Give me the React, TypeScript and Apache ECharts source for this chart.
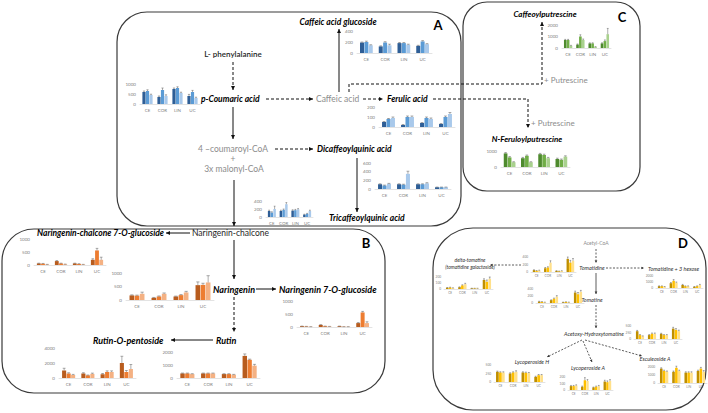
import React, { useEffect, useRef } from 'react';
import * as echarts from 'echarts';

const categories = ['CE', 'COR', 'LIN', 'UC'];

// three series (dark, medium, light), four categories each
const caffeicAcidGlucoside = [[190, 120, 180, 130], [200, 190, 180, 210], [140, 140, 150, 160]];
const pCoumaricAcid = [[600, 350, 750, 400], [650, 700, 800, 600], [450, 400, 550, 300]];
const ferulicAcid = [[50, 20, 40, 30], [80, 100, 90, 100], [90, 100, 80, 130]];
const dicaffeoylquinicAcid = [[110, 110, 110, 40], [80, 100, 110, 40], [120, 350, 130, 40]];
const tricaffeoylquinicAcid = [[150, 150, 160, 60], [110, 180, 170, 80], [200, 320, 190, 150]];
const caffeoylputrescine = [[700, 300, 400, 400], [700, 1000, 400, 600], [200, 700, 100, 1200]];
const nFeruloylputrescine = [[850, 550, 800, 500], [600, 700, 750, 450], [300, 300, 550, 650]];
const naringeninChalcone7OG = [[60, 150, 60, 200], [50, 60, 40, 560], [20, 30, 20, 200]];
const naringenin = [[170, 80, 130, 550], [160, 130, 180, 560], [230, 230, 280, 650]];
const naringenin7OG = [[30, 80, 30, 150], [20, 30, 10, 560], [10, 20, 10, 150]];
const rutinOPentoside = [[1000, 600, 500, 2000], [600, 350, 800, 800], [400, 550, 800, 1200]];
const rutin = [[350, 350, 300, 1700], [350, 350, 300, 1400], [300, 350, 250, 950]];
const deltaTomatine = [[20, 30, 10, 150], [25, 60, 10, 120], [15, 80, 10, 170]];
const tomatidine = [[50, 100, 30, 350], [30, 120, 20, 250], [40, 250, 30, 300]];
const tomatine = [[40, 80, 20, 300], [30, 120, 30, 250], [20, 180, 20, 320]];
const tomatidine3Hexose = [[300, 800, 500, 200], [300, 1200, 300, 300], [200, 900, 300, 500]];
const acetoxyHydroxytomatine = [[300, 150, 200, 400], [150, 200, 150, 350], [100, 200, 150, 300]];
const lycoperosideH = [[300, 250, 280, 150], [280, 280, 270, 200], [280, 300, 260, 200]];
const lycoperosideA = [[60, 50, 40, 130], [60, 150, 50, 120], [70, 140, 60, 140]];
const esculeosideA = [[1800, 1400, 1300, 1500], [1500, 1900, 1300, 1800], [1400, 1500, 1300, 1400]];

// error bars (same shape, 0 = none)
const pCoumaricErr = [[50, 50, 50, 80], [60, 100, 60, 80], [40, 60, 40, 40]];
const caffeicGlucErr = [[10, 10, 10, 10], [15, 15, 10, 15], [10, 20, 10, 10]];
const ferulicErr = [[5, 5, 5, 5], [5, 10, 10, 10], [10, 10, 10, 15]];
const dicaffErr = [[10, 10, 10, 5], [10, 10, 10, 5], [10, 60, 15, 5]];
const tricaffErr = [[20, 20, 20, 10], [20, 20, 20, 10], [70, 40, 20, 20]];
const caffeoylputErr = [[50, 50, 50, 50], [50, 150, 50, 100], [30, 80, 20, 500]];
const nFerulErr = [[50, 50, 50, 50], [50, 50, 50, 50], [30, 30, 50, 50]];
const nc7ogErr = [[10, 20, 10, 40], [10, 10, 10, 80], [5, 5, 5, 100]];
const naringeninErr = [[20, 15, 15, 120], [20, 20, 20, 60], [60, 30, 40, 250]];
const n7ogErr = [[5, 10, 5, 20], [5, 5, 3, 40], [3, 3, 3, 50]];
const rutinOPErr = [[300, 100, 100, 900], [100, 50, 150, 200], [80, 100, 150, 600]];
const rutinErr = [[30, 30, 30, 150], [30, 30, 30, 50], [30, 30, 30, 100]];
const deltaErr = [[5, 5, 3, 20], [5, 10, 3, 30], [5, 15, 3, 30]];
const tomatidineErr = [[10, 20, 5, 50], [10, 20, 5, 60], [10, 50, 5, 60]];
const tomatineErr = [[10, 10, 5, 40], [10, 20, 5, 50], [5, 30, 5, 40]];
const hexoseErr = [[50, 100, 100, 50], [50, 200, 50, 50], [50, 100, 50, 100]];
const acetoxyErr = [[30, 20, 20, 50], [20, 30, 20, 50], [20, 30, 20, 40]];
const lycoHErr = [[20, 20, 20, 20], [20, 20, 20, 20], [20, 30, 20, 20]];
const lycoAErr = [[10, 10, 5, 20], [10, 40, 10, 20], [10, 20, 10, 20]];
const esculErr = [[100, 100, 100, 100], [100, 200, 100, 150], [100, 100, 100, 150]];

const BLUE = ['#2E5E96', '#5B9BD5', '#A9C9EB'];
const ORANGE = ['#B85C1E', '#ED7D31', '#F4B183'];
const GREEN = ['#4E8A2E', '#70AD47', '#A9D18E'];
const GOLD = ['#BF8F00', '#FFC000', '#FFE08A'];

const FONT = 'Lato, "Open Sans", sans-serif';

type ChartSpec = { data: number[][]; err: number[][]; colors: string[]; max: number; interval: number; box: number[]; fs: number };

const charts: ChartSpec[] = [
  { data: caffeicAcidGlucoside, err: caffeicGlucErr, colors: BLUE, max: 400, interval: 200, box: [357, 31, 75, 22], fs: 4.5 },
  { data: pCoumaricAcid, err: pCoumaricErr, colors: BLUE, max: 1000, interval: 500, box: [140, 84, 60, 20], fs: 4.5 },
  { data: ferulicAcid, err: ferulicErr, colors: BLUE, max: 200, interval: 100, box: [379, 107, 76, 20], fs: 4.5 },
  { data: dicaffeoylquinicAcid, err: dicaffErr, colors: BLUE, max: 600, interval: 200, box: [375, 163, 76, 26], fs: 4.5 },
  { data: tricaffeoylquinicAcid, err: tricaffErr, colors: BLUE, max: 400, interval: 200, box: [266, 201, 47, 16], fs: 4.5 },
  { data: caffeoylputrescine, err: caffeoylputErr, colors: GREEN, max: 2000, interval: 1000, box: [562, 25, 49, 23], fs: 4.5 },
  { data: nFeruloylputrescine, err: nFerulErr, colors: GREEN, max: 1000, interval: 1000, box: [501, 151, 69, 16], fs: 4.5 },
  { data: naringeninChalcone7OG, err: nc7ogErr, colors: ORANGE, max: 1000, interval: 500, box: [34, 239, 72, 26], fs: 4.5 },
  { data: naringenin, err: naringeninErr, colors: ORANGE, max: 1000, interval: 500, box: [126, 273, 88, 27], fs: 4.5 },
  { data: naringenin7OG, err: n7ogErr, colors: ORANGE, max: 1000, interval: 500, box: [297, 301, 75, 26], fs: 4.5 },
  { data: rutinOPentoside, err: rutinOPErr, colors: ORANGE, max: 4000, interval: 2000, box: [59, 348, 77, 30], fs: 4.5 },
  { data: rutin, err: rutinErr, colors: ORANGE, max: 2000, interval: 1000, box: [177, 352, 83, 26], fs: 4.5 },
  { data: deltaTomatine, err: deltaErr, colors: GOLD, max: 200, interval: 100, box: [444, 277, 49, 12], fs: 3.2 },
  { data: tomatidine, err: tomatidineErr, colors: GOLD, max: 400, interval: 200, box: [531, 257, 45, 15], fs: 3.2 },
  { data: tomatine, err: tomatineErr, colors: GOLD, max: 400, interval: 200, box: [536, 289, 48, 14], fs: 3.2 },
  { data: tomatidine3Hexose, err: hexoseErr, colors: GOLD, max: 2000, interval: 1000, box: [656, 276, 47, 12], fs: 3.2 },
  { data: acetoxyHydroxytomatine, err: acetoxyErr, colors: GOLD, max: 500, interval: 250, box: [634, 326, 48, 13], fs: 3.2 },
  { data: lycoperosideH, err: lycoHErr, colors: GOLD, max: 500, interval: 250, box: [494, 365, 51, 17], fs: 3.2 },
  { data: lycoperosideA, err: lycoAErr, colors: GOLD, max: 200, interval: 100, box: [568, 377, 45, 13], fs: 3.2 },
  { data: esculeosideA, err: esculErr, colors: GOLD, max: 2000, interval: 1000, box: [658, 367, 49, 16], fs: 3.2 },
];

const CAT_GAP = 0.32;
const BAR_GAP = 0.1;

function T(x: number, y: number, text: string, o: any = {}) {
  const font = `${o.italic ? 'italic ' : ''}${o.weight ?? 'normal'} ${o.size ?? 8}px ${FONT}`;
  return {
    type: 'text', x, y, silent: true, z: 20,
    style: {
      text, fill: o.fill ?? '#000', font,
      textAlign: o.align ?? 'left', textVerticalAlign: 'middle',
      align: o.align ?? 'left', verticalAlign: 'middle',
    },
  };
}

function arrow(pts: number[][], dashed: boolean, o: any = {}) {
  const color = o.color ?? '#111';
  const lw = o.lw ?? 1;
  const els: any[] = [{
    type: 'polyline', silent: true, z: 15,
    shape: { points: pts },
    style: { stroke: color, lineWidth: lw, lineDash: dashed ? (o.dash ?? [3, 2]) : null, fill: null },
  }];
  if (o.head !== false) {
    const [x1, y1] = pts[pts.length - 2];
    const [x2, y2] = pts[pts.length - 1];
    const dx = x2 - x1, dy = y2 - y1;
    const L = Math.hypot(dx, dy);
    const ux = dx / L, uy = dy / L;
    const hl = o.hl ?? 4, hw = o.hw ?? 2;
    els.push({
      type: 'polygon', silent: true, z: 16,
      shape: { points: [[x2, y2], [x2 - ux * hl - uy * hw, y2 - uy * hl + ux * hw], [x2 - ux * hl + uy * hw, y2 - uy * hl - ux * hw]] },
      style: { fill: color },
    });
  }
  return els;
}

function panel(x: number, y: number, w: number, h: number, r: number) {
  return { type: 'rect', silent: true, z: 1, shape: { x, y, width: w, height: h, r }, style: { fill: 'none', stroke: '#3a3a3a', lineWidth: 1.2 } };
}

const GRAY = '#8c8c8c';
const BI = { italic: true, weight: 'bold', size: 8.5 };

function buildGraphic() {
  const g: any[] = [];
  g.push(panel(117, 12, 344, 214, 30));
  g.push(panel(2, 229, 383, 164, 32));
  g.push(panel(463, 2, 177, 189, 24));
  g.push(panel(433, 228, 273, 182, 40));

  g.push(T(438, 25, 'A', { weight: 'bold', size: 13, align: 'center' }));
  g.push(T(366, 243, 'B', { weight: 'bold', size: 13, align: 'center' }));
  g.push(T(622, 17, 'C', { weight: 'bold', size: 13, align: 'center' }));
  g.push(T(683, 243, 'D', { weight: 'bold', size: 13, align: 'center' }));

  // Panel A
  g.push(T(233, 54, 'L- phenylalanine', { weight: 600, size: 8, align: 'center', fill: '#262626' }));
  g.push(...arrow([[233, 62], [233, 90]], true));
  g.push(T(201, 99, 'p-Coumaric acid', BI));
  g.push(...arrow([[266, 99], [313, 99]], true));
  g.push(T(316, 99, 'Caffeic acid', { size: 8.5, fill: GRAY }));
  g.push(...arrow([[339, 92], [339, 29]], false));
  g.push(T(338, 22, 'Caffeic acid glucoside', { ...BI, align: 'center' }));
  g.push(...arrow([[363, 99], [383, 99]], true));
  g.push(T(387, 99, 'Ferulic acid', BI));
  g.push(...arrow([[433, 99], [528, 99], [528, 128]], true));
  g.push(...arrow([[349, 92], [349, 84], [542, 84], [542, 22]], true));
  g.push(T(544, 80, '+ Putrescine', { size: 8, fill: GRAY }));
  g.push(T(531, 123, '+ Putrescine', { size: 8, fill: GRAY }));
  g.push(T(545, 14, 'Caffeoylputrescine', { ...BI, size: 8, align: 'center' }));
  g.push(T(527, 139, 'N-Feruloylputrescine', { ...BI, size: 8, align: 'center' }));
  g.push(...arrow([[233, 107], [233, 139]], false));
  g.push(T(233, 149, '4 \u2013coumaroyl-CoA', { size: 8.5, fill: GRAY, align: 'center' }));
  g.push(T(233, 159, '+', { size: 8.5, fill: GRAY, align: 'center' }));
  g.push(T(234, 169, '3x malonyl-CoA', { size: 8.5, fill: GRAY, align: 'center' }));
  g.push(...arrow([[275, 149], [313, 149]], true));
  g.push(T(317, 149, 'Dicaffeoylquinic acid', BI));
  g.push(...arrow([[357, 158], [357, 212]], false));
  g.push(T(329, 218, 'Tricaffeoylquinic acid', BI));
  g.push(...arrow([[234, 180], [234, 226]], false));

  // Panel B
  g.push(T(192, 233, 'Naringenin-chalcone', { size: 8.5, fill: '#262626' }));
  g.push(...arrow([[190, 233], [166, 233]], false));
  g.push(T(37, 233, 'Naringenin-chalcone 7-O-glucoside', BI));
  g.push(...arrow([[234, 240], [234, 279]], false));
  g.push(T(213, 289, 'Naringenin', { ...BI, size: 9 }));
  g.push(...arrow([[256, 289], [276, 289]], false));
  g.push(T(279, 289, 'Naringenin 7-O-glucoside', { ...BI, size: 9 }));
  g.push(...arrow([[234, 297], [234, 332]], true));
  g.push(T(216, 340, 'Rutin', { ...BI, size: 9 }));
  g.push(...arrow([[213, 340], [171, 340]], false));
  g.push(T(93, 340, 'Rutin-O-pentoside', { ...BI, size: 9 }));

  // Panel D
  const DI = { italic: true, size: 5.5, fill: '#303030', align: 'center' };
  const dOpt = { lw: 0.8, hl: 2.5, hw: 1.3, dash: [2, 1.5], color: '#333' };
  g.push(T(596, 243, 'Acetyl-CoA', { size: 5, fill: GRAY, align: 'center' }));
  g.push(...arrow([[596, 249], [596, 263]], true, dOpt));
  g.push(T(592, 268, 'Tomatidine', DI));
  g.push(...arrow([[521, 265], [490, 265]], true, dOpt));
  g.push(T(470, 260, 'delta-tomatine', { ...DI, size: 5 }));
  g.push(T(470, 267, '(tomatidine galactoside)', { ...DI, size: 5 }));
  g.push(...arrow([[606, 268], [644, 268]], true, dOpt));
  g.push(T(648, 269, 'Tomatidine + 3 hexose', { ...DI, align: 'left' }));
  g.push(...arrow([[596, 273], [596, 294]], false, dOpt));
  g.push(T(592, 300, 'Tomatine', DI));
  g.push(...arrow([[596, 305], [596, 328]], true, dOpt));
  g.push(T(594, 334, 'Acetoxy-Hydroxytomatine', DI));
  g.push(...arrow([[582, 340], [547, 357]], true, dOpt));
  g.push(...arrow([[583, 341], [592, 362]], true, dOpt));
  g.push(...arrow([[585, 340], [642, 356]], true, dOpt));
  g.push(T(532, 362, 'Lycoperoside H', DI));
  g.push(T(588, 368, 'Lycoperoside A', DI));
  g.push(T(655, 359, 'Esculeoside A', DI));
  return g;
}

function buildOption() {
  const grid: any[] = [], xAxis: any[] = [], yAxis: any[] = [], series: any[] = [];
  charts.forEach((c, i) => {
    const [l, t, w, h] = c.box;
    grid.push({ left: l, top: t, width: w, height: h, containLabel: false });
    xAxis.push({
      type: 'category', gridIndex: i, data: categories,
      axisLine: { show: true, lineStyle: { color: '#d0d0d0', width: 0.6 } },
      axisTick: { show: false },
      axisLabel: { interval: 0, fontSize: c.fs, color: '#7f7f7f', margin: c.fs * 0.8, fontFamily: FONT },
    });
    yAxis.push({
      type: 'value', gridIndex: i, min: 0, max: c.max, interval: c.interval,
      axisLine: { show: false }, axisTick: { show: false }, splitLine: { show: false },
      axisLabel: { fontSize: c.fs, color: '#7f7f7f', margin: c.fs * 0.9, fontFamily: FONT, formatter: (v: number) => String(v) },
    });
    c.data.forEach((vals, j) => {
      series.push({
        type: 'bar', xAxisIndex: i, yAxisIndex: i, data: vals,
        itemStyle: { color: c.colors[j] },
        barGap: `${BAR_GAP * 100}%`, barCategoryGap: `${CAT_GAP * 100}%`,
        silent: true,
      });
    });
    const errData: number[][] = [];
    c.err.forEach((row, j) => row.forEach((e, k) => { if (e > 0) errData.push([k, j, c.data[j][k], e]); }));
    series.push({
      type: 'custom', xAxisIndex: i, yAxisIndex: i, clip: false, silent: true, z: 5,
      encode: { x: 0, y: 2 },
      data: errData,
      renderItem: (_p: any, api: any) => {
        const k = api.value(0), j = api.value(1), v = api.value(2), e = api.value(3);
        const band = api.size([1, 0])[0];
        const bw = band * (1 - CAT_GAP) / (3 + 2 * BAR_GAP);
        const base = api.coord([k, v]);
        const x = base[0] + (j - 1) * bw * (1 + BAR_GAP);
        const top = api.coord([k, v + e])[1];
        const cap = Math.max(0.8, bw * 0.35);
        const st = { stroke: '#5a5a5a', lineWidth: 0.5 };
        return {
          type: 'group', children: [
            { type: 'line', shape: { x1: x, y1: base[1], x2: x, y2: top }, style: st },
            { type: 'line', shape: { x1: x - cap, y1: top, x2: x + cap, y2: top }, style: st },
          ],
        };
      },
    });
  });
  return {
    animation: false,
    backgroundColor: '#ffffff',
    textStyle: { fontFamily: FONT },
    grid, xAxis, yAxis, series,
    graphic: { elements: buildGraphic() },
  };
}

export default function App() {
  const ref = useRef<HTMLDivElement>(null);
  useEffect(() => {
    if (!ref.current) return;
    const chart = echarts.init(ref.current, undefined, { renderer: 'svg' });
    chart.setOption(buildOption() as any);
    return () => chart.dispose();
  }, []);
  return <div ref={ref} style={{ position: 'fixed', left: 0, top: 0, width: 708, height: 413, background: '#fff' }} />;
}
